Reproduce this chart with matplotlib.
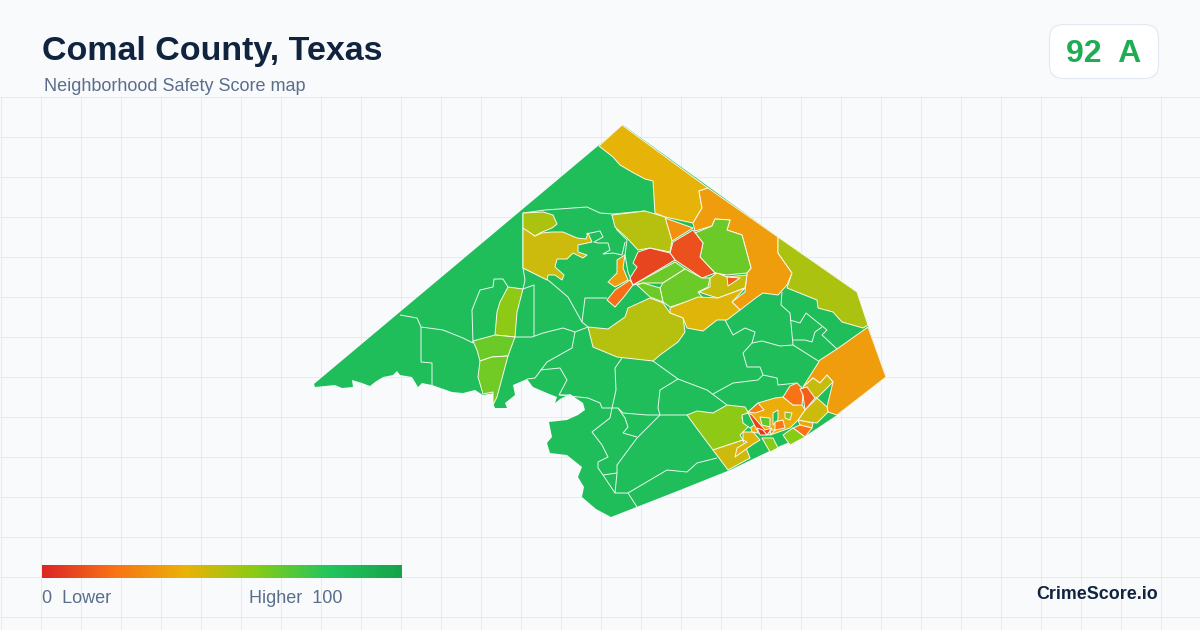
import numpy as np
import matplotlib
matplotlib.use('Agg')
import matplotlib.pyplot as plt
from matplotlib.collections import LineCollection, PolyCollection
from matplotlib.colors import LinearSegmentedColormap, Normalize
from matplotlib.patches import FancyBboxPatch

# colour scale of the score
score_stops = [0, 20, 40, 60, 80, 100]
score_colors = ['#dc2626', '#f97316', '#eab308', '#84cc16', '#22c55e', '#16a34a']

title = 'Comal County, Texas'
subtitle = 'Neighborhood Safety Score map'
overall_score = '92  A'
brand = 'CrimeScore.io'

# map shapes (map units are the picture's pixels)
county = [(314, 384), (623, 125), (778, 237), (857, 292), (868, 326), (886, 377), (837, 415), (807, 435),
          (780, 446), (730, 470), (680, 490), (611, 517), (596, 509), (582, 497), (584, 487), (578, 477),
          (582, 467), (567, 455), (550, 453), (547, 443), (552, 437), (549, 422), (567, 420), (578, 415),
          (585, 410), (583, 403), (570, 394), (560, 399), (555, 403), (557, 397), (547, 393), (533, 387),
          (527, 379), (513, 385), (515, 395), (505, 403), (507, 408), (495, 408), (493, 403), (494, 393),
          (483, 395), (475, 390), (463, 393), (452, 392), (432, 385), (422, 383), (418, 387), (412, 377),
          (400, 375), (397, 371), (393, 375), (383, 377), (375, 382), (370, 386), (362, 383), (352, 380),
          (353, 387), (342, 388), (335, 385), (315, 387)]
north_band = [(599, 146), (622, 125), (708, 188), (699, 191), (702, 208), (693, 223), (665, 217), (655, 213),
              (653, 181), (645, 179), (632, 172), (620, 165), (613, 157)]
orange_band = [(708, 188), (778, 237), (778, 253), (792, 273), (787, 285), (778, 295), (763, 293), (757, 297),
               (740, 310), (732, 302), (745, 292), (747, 273), (751, 268), (742, 235), (727, 230), (730, 220),
               (715, 219), (712, 226), (695, 231), (693, 223), (702, 208), (699, 191)]
olive_band = [(778, 237), (857, 292), (868, 325), (863, 328), (842, 322), (833, 312), (818, 308), (817, 300),
              (787, 288), (792, 273), (778, 253)]
lime_north = [(715, 219), (730, 220), (727, 230), (742, 235), (751, 268), (747, 273), (727, 275), (715, 273),
              (700, 257), (703, 243), (695, 233), (712, 226)]
red_east = [(693, 230), (703, 243), (700, 257), (715, 273), (727, 277), (715, 273), (702, 278), (675, 260),
            (670, 253), (673, 242)]
red_west = [(675, 260), (670, 253), (650, 248), (638, 252), (633, 263), (637, 267), (630, 278), (633, 285)]
orange_small = [(665, 218), (693, 228), (672, 241)]
olive_top = [(612, 215), (645, 211), (665, 217), (672, 241), (670, 252), (650, 248), (638, 250), (627, 238),
             (615, 227)]
orange_patch = [(630, 280), (633, 285), (623, 298), (615, 307), (607, 300), (615, 290)]
amber_patch = [(625, 255), (617, 260), (617, 273), (608, 282), (615, 287), (628, 280), (623, 268)]
lime_strip = [(675, 262), (685, 269), (663, 283), (643, 283), (633, 285)]
lime_mid = [(685, 269), (702, 278), (710, 278), (708, 287), (698, 292), (702, 297), (670, 307), (663, 302),
            (660, 288), (663, 283)]
lime_low = [(637, 285), (643, 283), (660, 288), (663, 302), (650, 297)]
olive_mid = [(717, 273), (727, 277), (747, 275), (745, 288), (718, 298), (708, 295), (699, 292), (710, 287),
             (710, 278)]
red_tiny = [(727, 277), (740, 278), (728, 286)]
yellow_low = [(670, 308), (698, 297), (718, 298), (745, 288), (732, 302), (740, 310), (727, 320), (717, 320),
              (703, 331), (687, 328), (683, 318), (670, 313)]
olive_low = [(588, 327), (608, 329), (625, 317), (628, 308), (650, 298), (663, 303), (670, 313), (683, 318),
             (685, 332), (678, 342), (660, 355), (653, 361), (617, 357), (593, 347)]
olive_west = [(523, 228), (527, 230), (535, 236), (542, 233), (552, 232), (563, 232), (577, 238), (586, 239),
              (588, 233), (592, 242), (578, 245), (578, 252), (587, 255), (583, 258), (573, 253), (567, 259),
              (557, 259), (555, 267), (564, 275), (562, 280), (555, 275), (548, 275), (547, 280), (523, 268)]
olive_cap = [(523, 213), (543, 212), (553, 215), (557, 224), (552, 228), (540, 233), (535, 236), (523, 228)]
lime_west_top = [(508, 287), (523, 289), (517, 312), (515, 337), (495, 335), (497, 312), (500, 302)]
lime_west_mid = [(473, 341), (495, 335), (515, 337), (508, 356), (492, 357), (480, 361), (477, 350)]
lime_west_low = [(480, 361), (492, 357), (508, 356), (497, 397), (493, 405), (493, 392), (483, 394), (478, 377)]
lime_south = [(687, 415), (697, 411), (713, 413), (727, 405), (745, 407), (748, 412), (742, 418), (750, 425),
              (740, 435), (743, 440), (713, 450), (698, 430)]
olive_south = [(713, 450), (743, 440), (750, 458), (728, 470)]
yellow_south = [(743, 432), (753, 432), (760, 440), (752, 445), (735, 457), (737, 448), (747, 442), (743, 440)]
orange_east = [(868, 327), (886, 377), (837, 415), (828, 412), (827, 407), (833, 382), (827, 375), (820, 383),
               (813, 378), (803, 387), (820, 360), (837, 349)]
olive_east = [(817, 398), (827, 407), (828, 412), (817, 423), (808, 422), (798, 420), (805, 410)]
olive_strip = [(803, 387), (813, 378), (820, 383), (827, 375), (833, 382), (818, 397), (815, 398)]
city_ring = [(748, 412), (758, 403), (775, 398), (783, 397), (793, 405), (802, 405), (805, 410), (798, 420),
             (790, 428), (770, 435), (752, 432), (750, 425), (742, 418)]
city_nw = [(748, 412), (758, 403), (764, 410), (755, 413)]
city_north = [(783, 397), (790, 386), (797, 383), (802, 388), (803, 395), (802, 405), (793, 405)]
city_ne = [(800, 389), (807, 387), (815, 398), (805, 410), (803, 395)]
city_green = [(742, 415), (748, 413), (757, 423), (750, 428), (743, 423)]
city_red = [(748, 413), (752, 415), (765, 430), (772, 428), (767, 435), (758, 432)]
city_core = [(757, 428), (763, 430), (767, 435), (760, 435)]
city_lime = [(760, 417), (770, 418), (770, 427), (762, 425)]
city_pocket = [(773, 413), (778, 410), (778, 420), (773, 425)]
city_lime_e = [(785, 412), (792, 413), (790, 420), (785, 418)]
city_orange = [(775, 422), (783, 420), (785, 428), (775, 430)]
city_orange_s = [(770, 430), (775, 430), (771, 435)]
city_amber = [(798, 420), (808, 422), (813, 423), (812, 428), (800, 425)]
south_orange = [(800, 425), (812, 428), (805, 437), (793, 428)]
south_lime = [(783, 435), (793, 428), (805, 437), (790, 445)]
south_lime_w = [(762, 438), (773, 438), (778, 448), (770, 452)]

regions = [north_band, orange_band, olive_band, lime_north, red_east, red_west, orange_small, olive_top,
           orange_patch, amber_patch, lime_strip, lime_mid, lime_low, olive_mid, red_tiny, yellow_low, olive_low,
           olive_west, olive_cap, lime_west_top, lime_west_mid, lime_west_low, lime_south, olive_south,
           yellow_south, orange_east, olive_east, olive_strip, city_ring, city_nw, city_north, city_ne, city_green,
           city_red, city_core, city_lime, city_pocket, city_lime_e, city_orange, city_orange_s, city_amber,
           south_orange, south_lime, south_lime_w]
region_scores = [41, 33, 52, 65, 11, 8, 29, 50,
                 19, 33, 65, 65, 65, 47, 14, 42, 50,
                 46, 52, 58, 65, 64, 58, 46,
                 42, 33, 46, 47, 38, 23, 20, 15, 82,
                 8, 4, 68, 84, 62, 22, 25, 36,
                 20, 60, 60]

# tract lines inside the green part of the county
tract_lines = [
    [(523, 213), (545, 210), (587, 207), (600, 213), (613, 214), (645, 211)],
    [(523, 213), (523, 268), (525, 280), (523, 289)],
    [(523, 268), (548, 280), (568, 297), (582, 322), (588, 327)],
    [(400, 315), (417, 318), (421, 327), (443, 330), (463, 338), (473, 343)],
    [(421, 327), (421, 362), (432, 363), (432, 385)],
    [(473, 343), (472, 310), (480, 290), (493, 287), (494, 279), (503, 279), (508, 287)],
    [(523, 289), (534, 285), (534, 336)],
    [(515, 337), (532, 337), (543, 333), (563, 328), (575, 332), (588, 327)],
    [(575, 332), (572, 348), (547, 362), (535, 378), (527, 379)],
    [(540, 370), (560, 368), (567, 380), (559, 395), (570, 395)],
    [(582, 322), (585, 298), (607, 298)],
    [(622, 358), (615, 368), (616, 390), (612, 408), (610, 418), (592, 432), (602, 445), (608, 457),
     (598, 462), (598, 468), (603, 475), (615, 493), (628, 493), (637, 507)],
    [(560, 395), (588, 398), (600, 403), (602, 408), (618, 408), (623, 413), (647, 415), (673, 415), (687, 415)],
    [(618, 408), (625, 418), (628, 427), (623, 433), (637, 437)],
    [(660, 415), (652, 423), (637, 438), (617, 465), (617, 473), (603, 475)],
    [(617, 473), (615, 493)],
    [(628, 493), (667, 470), (687, 472), (697, 463), (717, 458)],
    [(653, 361), (678, 379), (660, 390), (658, 408), (660, 415)],
    [(678, 379), (707, 390), (727, 405)],
    [(713, 394), (733, 383), (758, 380), (763, 375)],
    [(725, 320), (733, 335), (745, 328), (755, 332), (752, 343), (743, 353), (747, 367), (760, 367), (763, 375)],
    [(752, 343), (762, 341), (780, 346), (793, 345), (820, 362)],
    [(782, 292), (781, 305), (790, 313), (793, 345)],
    [(763, 375), (777, 378), (778, 385), (797, 383)],
    [(790, 320), (800, 323), (806, 313), (827, 330), (822, 335), (837, 349)],
    [(793, 340), (805, 340), (812, 342), (815, 332), (822, 327)],
    [(586, 234), (600, 231), (603, 237), (594, 242), (598, 243), (608, 243), (610, 250), (603, 254), (613, 253),
     (622, 255), (625, 242)],
    [(612, 215), (617, 230), (627, 240), (625, 255), (628, 272), (632, 282)],
]

cmap = LinearSegmentedColormap.from_list('score', [(s / 100, c) for s, c in zip(score_stops, score_colors)])
norm = Normalize(0, 100)

plt.rcParams['font.family'] = ['Liberation Sans', 'DejaVu Sans']

fig = plt.figure(figsize=(12, 6.3), dpi=100)
fig.patch.set_facecolor('#f8fafc')
ax = fig.add_axes([0, 0, 1, 1])
ax.set_xlim(0, 1200)
ax.set_ylim(630, 0)
ax.axis('off')

# background grid
for x in np.arange(0.5, 1200, 40):
    ax.plot([x, x], [96, 630], color='#e2edf2', lw=0.72, zorder=1, solid_capstyle='butt')
for y in np.arange(96.5, 630, 40):
    ax.plot([0, 1200], [y, y], color='#e2edf2', lw=0.72, zorder=1, solid_capstyle='butt')

# county base, then scored regions
base = PolyCollection([county], array=np.array([84]), cmap=cmap, norm=norm, edgecolors='none', zorder=2)
ax.add_collection(base)
ax.add_collection(LineCollection(tract_lines, colors='#e9f8ee', linewidths=0.7, zorder=3))
shapes = PolyCollection(regions, array=np.array(region_scores), cmap=cmap, norm=norm,
                        edgecolors='#fdf9e8', linewidths=0.7, zorder=4)
shapes.set_joinstyle('round')
ax.add_collection(shapes)

# header
ax.text(42, 60, title, fontsize=24.5, fontweight='bold', color='#10243f', va='baseline', zorder=6)
ax.text(44, 91, subtitle, fontsize=12.95, color='#5a6e8c', va='baseline', zorder=6)

badge = FancyBboxPatch((1049.5, 24.5), 109, 54, boxstyle='round,pad=0,rounding_size=14',
                       facecolor='white', edgecolor='#e2e8f0', lw=0.8, zorder=5)
ax.add_patch(badge)
ax.text(1103.5, 62, overall_score, fontsize=23, fontweight='bold', color='#1fad54', ha='center',
        va='baseline', zorder=6)

# score legend
grad = np.linspace(0, 100, 360).reshape(1, -1)
ax.imshow(grad, cmap=cmap, norm=norm, extent=(42, 402, 578, 565), aspect='auto', zorder=5)
ax.set_xlim(0, 1200)
ax.set_ylim(630, 0)
ax.text(42, 603, '0  Lower', fontsize=12.95, color='#5a6e8c', va='baseline', zorder=6)
ax.text(249, 603, 'Higher  100', fontsize=12.95, color='#5a6e8c', va='baseline', zorder=6)
ax.text(1158, 599, brand, fontsize=12.9, fontweight='bold', color='#10243f', ha='right', va='baseline', zorder=6)

fig.savefig('out.png', dpi=100, facecolor=fig.get_facecolor())
